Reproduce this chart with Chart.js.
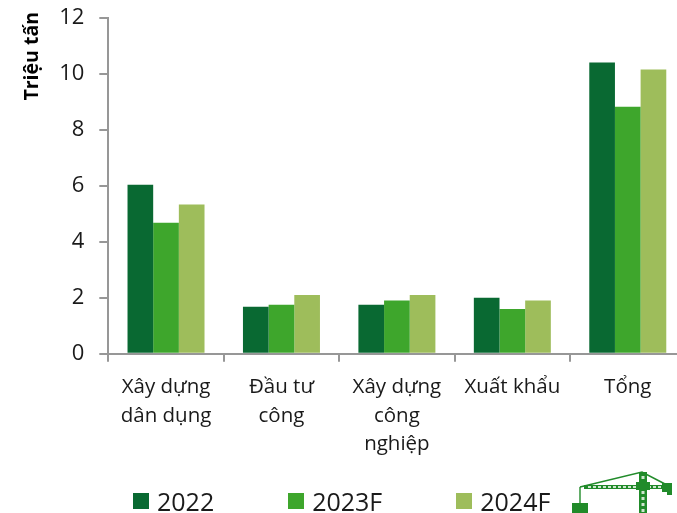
<!DOCTYPE html>
<html>
<head>
<meta charset="utf-8">
<script src="https://cdn.jsdelivr.net/npm/chart.js@4/dist/chart.umd.min.js"></script>
<style>
    html, body { margin: 0; padding: 0; background: #fff; overflow: hidden; width: 677px; height: 513px; }
    #grafico { position: absolute; left: 0; top: 0; }
    #legenda { position: absolute; left: 133px; top: 486px; display: flex; gap: 74px; font: 25px "Open Sans"; color: #1a1a1a; line-height: 30px; }
    #legenda div { display: flex; align-items: center; }
    #legenda i { display: block; width: 16px; height: 16px; margin-right: 8px; }
    #guindaste { position: absolute; left: 560px; top: 460px; }
</style>
</head>
<body>
<canvas id="grafico" width="686" height="513"></canvas>
<div id="legenda"></div>
<svg id="guindaste" width="117" height="53" fill="#218b2a" stroke="none">
    <path d="M20 27 L82 12 L105 24" fill="none" stroke="#218b2a" stroke-width="1.6"/>
    <path d="M20 27 V44" fill="none" stroke="#218b2a" stroke-width="1.4"/>
    <rect x="12" y="43" width="16" height="10"/>
    <rect x="24" y="25" width="80" height="4"/>
    <path d="M28 27 H102" stroke="#cfe6cf" stroke-width="2" stroke-dasharray="3 2"/>
    <rect x="79" y="12" width="8" height="41"/>
    <path d="M83 16 V22 M83 31 V53" stroke="#cfe6cf" stroke-width="3" stroke-dasharray="3 3"/>
    <rect x="76" y="22" width="14" height="8"/>
    <rect x="102" y="23" width="10" height="9"/>
    <rect x="107" y="30" width="5" height="5"/>
</svg>

<script>
const categorias = [['Xây dựng', 'dân dụng'], ['Đầu tư', 'công'], ['Xây dựng', 'công', 'nghiệp'], 'Xuất khẩu', 'Tổng'];
const nomes = ['2022', '2023F', '2024F'];
const cores = ['#096932', '#3ea62c', '#9ebd5b'];
const valores2022 = [6.03, 1.68, 1.75, 2.0, 10.4];
const valores2023 = [4.68, 1.75, 1.9, 1.6, 8.82];
const valores2024 = [5.33, 2.1, 2.1, 1.9, 10.15];

const series = [valores2022, valores2023, valores2024];

// Legenda em HTML, o espaçamento do plugin padrão também empurra a altura
document.getElementById('legenda').innerHTML = nomes.map((nome, i) =>
    `<div><i style="background:${cores[i]}"></i>${nome}</div>`).join('');

const fonte = 'Open Sans';

var myChart = new Chart(document.getElementById('grafico'), {
    type: 'bar',
    data: {
        labels: categorias,
        datasets: series.map((dados, i) => ({
            label: nomes[i],
            data: dados,
            backgroundColor: cores[i],
            barPercentage: 1,
            categoryPercentage: 0.667
        }))
    },
    options: {
        responsive: false,
        animation: false,
        layout: { padding: { top: 12, right: 0.5 } },
        plugins: {
            legend: { display: false },
            tooltip: { enabled: false },
            // título como caixa lateral para poder subir acima da área do gráfico
            title: {
                display: true,
                text: 'Triệu tấn',
                position: 'left',
                align: 'end',
                color: '#000',
                font: { family: fonte, size: 19.5, weight: 'bold', lineHeight: 1.2 },
                padding: { top: 21, bottom: 0 }
            }
        },
        scales: {
            x: {
                afterFit: scale => { scale.height = 159.3; },
                border: { color: '#979797', width: 2 },
                grid: { drawOnChartArea: false, color: '#979797', lineWidth: 2, tickLength: 8, offset: true },
                ticks: { color: '#1a1a1a', font: { family: fonte, size: 20.5, lineHeight: 1.4 }, padding: 11, maxRotation: 0 }
            },
            y: {
                min: 0,
                max: 12,
                afterFit: scale => { scale.width = 63.9; scale.paddingTop = 17.7; },
                border: { color: '#979797', width: 2 },
                grid: { drawOnChartArea: false, color: '#979797', lineWidth: 2, tickLength: 9 },
                ticks: { stepSize: 2, color: '#1a1a1a', font: { family: fonte, size: 22 }, padding: 15 }
            }
        }
    }
});
</script>
</body>
</html>
